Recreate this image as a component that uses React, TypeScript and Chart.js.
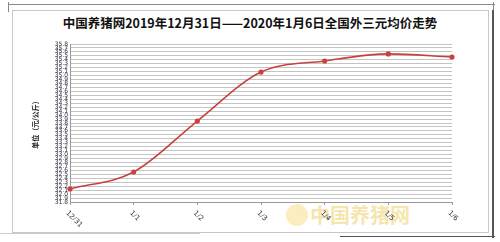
import React, { useEffect, useRef } from "react";
import { Chart, registerables } from "chart.js";

Chart.register(...registerables);

const titleText = "中国养猪网2019年12月31日——2020年1月6日全国外三元均价走势";
const yTitle = "单位（元/公斤）";
const categories = ["12/31", "1/1", "1/2", "1/3", "1/4", "1/5", "1/6"];
const prices = [32.13, 32.56, 33.85, 35.09, 35.37, 35.55, 35.47];
const yMin = 31.8;
const yMax = 35.8;
const yStep = 0.1;

const rotatedXLabels = {
  id: "rotatedXLabels",
  afterDraw(chart: any) {
    const ctx = chart.ctx;
    const xs = chart.scales.x;
    const bottom = chart.chartArea.bottom;
    ctx.save();
    ctx.font = "7px 'DejaVu Sans', sans-serif";
    ctx.fillStyle = "#333";
    ctx.textBaseline = "middle";
    ctx.textAlign = "left";
    categories.forEach((c, i) => {
      const x = xs.getPixelForValue(i);
      ctx.save();
      ctx.translate(x - 3, bottom + 10);
      ctx.rotate(Math.PI / 4);
      ctx.fillText(c, 0, 0);
      ctx.restore();
    });
    ctx.restore();
  },
};

export default function App() {
  const ref = useRef<HTMLCanvasElement | null>(null);
  useEffect(() => {
    if (!ref.current) return;
    const chart = new Chart(ref.current, {
      type: "line",
      data: {
        labels: categories,
        datasets: [
          {
            data: prices,
            borderColor: "#c9413f",
            backgroundColor: "#c9413f",
            borderWidth: 1.6,
            pointRadius: 1.8,
            pointStyle: "circle",
            tension: 0.4,
            cubicInterpolationMode: "monotone",
          },
        ],
      },
      options: {
        animation: false,
        responsive: false,
        events: [],
        layout: { padding: { left: 29, right: 48, top: 44, bottom: 0 } },
        plugins: { legend: { display: false }, tooltip: { enabled: false } },
        scales: {
          x: {
            offset: false,
            grid: {
              display: true,
              drawOnChartArea: false,
              drawTicks: true,
              tickLength: 3,
              color: "#999",
            },
            border: { color: "#999" },
            ticks: { display: false },
            afterFit(scale: any) {
              scale.height = 40;
            },
          },
          y: {
            min: yMin,
            max: yMax,
            grid: { color: "#c4c4c4", drawTicks: false, lineWidth: 1 },
            border: { color: "#999" },
            ticks: {
              stepSize: yStep,
              autoSkip: false,
              font: { size: 6, family: "'DejaVu Sans', sans-serif" },
              color: "#334",
              padding: 2,
              callback: (v: any) => Number(v).toFixed(1),
            },
            title: {
              display: true,
              text: yTitle,
              font: { size: 7, weight: "bold", family: "'Noto Sans CJK SC', sans-serif" },
              color: "#222",
              padding: { top: 2, bottom: 0 },
            },
            afterFit(scale: any) {
              scale.width = 41;
            },
          },
        },
      },
      plugins: [rotatedXLabels],
    });
    return () => chart.destroy();
  }, []);

  return (
    <div style={{ position: "absolute", left: 0, top: 0, width: 500, height: 242, background: "#fff", overflow: "hidden" }}>
      <div style={{ position: "absolute", left: 8, top: 4, width: 487, height: 1, background: "#8a8a8a" }} />
      <div style={{ position: "absolute", left: 8, top: 2, width: 1, height: 10, background: "#8a8a8a" }} />
      <div style={{ position: "absolute", left: 493, top: 2, width: 1, height: 10, background: "#8a8a8a" }} />
      <div style={{ position: "absolute", left: 12, top: 10, width: 475, height: 221, border: "1px solid #c8c8c8" }} />
      <div style={{ position: "absolute", left: 492, top: 10, width: 2, height: 228, background: "#555" }} />
      <div style={{ position: "absolute", left: 340, top: 236, width: 155, height: 1, background: "#555" }} />
      <div style={{ position: "absolute", left: 0, top: 233, width: 200, height: 1, background: "#ccc" }} />
      <div
        style={{
          position: "absolute",
          left: 0,
          top: 14,
          width: 500,
          textAlign: "center",
          font: "bold 12.5px 'Noto Sans CJK SC', sans-serif",
          color: "#111",
          lineHeight: "18px",
        }}
      >
        {titleText}
      </div>
      <div
        style={{
          position: "absolute",
          left: 286,
          top: 204,
          width: 22,
          height: 22,
          borderRadius: 11,
          background: "#fbe8b0",
          opacity: 0.8,
        }}
      />
      <div
        style={{
          position: "absolute",
          left: 310,
          top: 201,
          font: "bold 20px 'Noto Sans CJK SC', sans-serif",
          color: "#f6df9a",
          opacity: 0.8,
          lineHeight: "28px",
        }}
      >
        中国养猪网
      </div>
      <canvas ref={ref} width={500} height={242} style={{ position: "absolute", left: 0, top: 0, width: 500, height: 242 }} />
    </div>
  );
}
